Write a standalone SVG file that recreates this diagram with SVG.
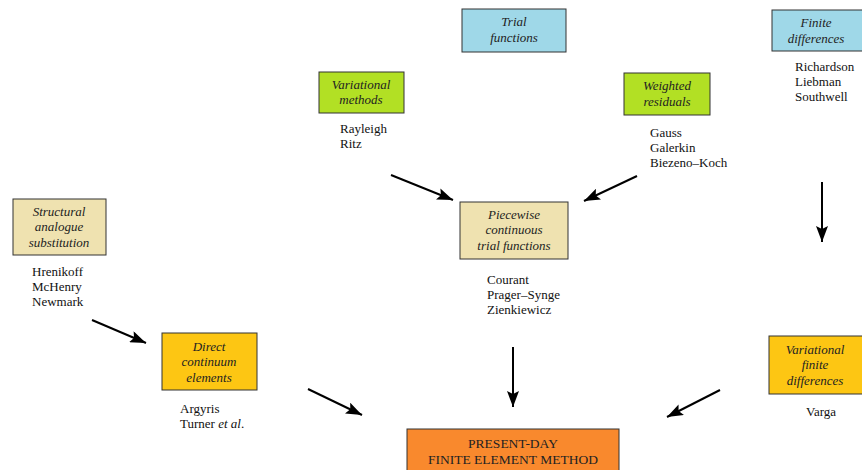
<svg xmlns="http://www.w3.org/2000/svg" width="862" height="470" viewBox="0 0 862 470">
<style>
.box{stroke:#333;stroke-width:1}
.blue{fill:#9fd8e8}
.green{fill:#b2e024}
.tan{fill:#efe2b0}
.gold{fill:#fdc613}
.orange{fill:#f9892d}
.lbl{font-family:"Liberation Serif",serif;font-style:italic;font-size:13px;fill:#222;text-anchor:middle}
.nm{font-family:"Liberation Serif",serif;font-size:13px;fill:#111}
.cap{font-family:"Liberation Serif",serif;font-size:13.5px;fill:#222;text-anchor:middle}
.arr{stroke:#000;stroke-width:2;fill:none;marker-end:url(#ah)}
</style>
<defs>
<marker id="ah" markerUnits="userSpaceOnUse" markerWidth="18" markerHeight="12" refX="16" refY="6" orient="auto">
<path d="M0,0 L16,6 L0,12 L3,6 Z" fill="#000"/>
</marker>
</defs>
<rect width="862" height="470" fill="#fff"/>
<g id="trial">
<rect class="box blue" x="462" y="9" width="104" height="43"/>
<text class="lbl" x="514" y="26">Trial</text>
<text class="lbl" x="514" y="42">functions</text>
</g>
<g id="finitediff">
<rect class="box blue" x="772" y="10" width="92" height="41"/>
<text class="lbl" x="816" y="27">Finite</text>
<text class="lbl" x="816" y="43">differences</text>
<text class="nm" x="795" y="71">Richardson</text>
<text class="nm" x="795" y="86">Liebman</text>
<text class="nm" x="795" y="101">Southwell</text>
</g>
<g id="variational">
<rect class="box green" x="319" y="72" width="85" height="41"/>
<text class="lbl" x="361" y="89">Variational</text>
<text class="lbl" x="361" y="104">methods</text>
<text class="nm" x="340" y="133">Rayleigh</text>
<text class="nm" x="340" y="148">Ritz</text>
</g>
<g id="weighted">
<rect class="box green" x="624" y="73" width="86" height="42"/>
<text class="lbl" x="667" y="90">Weighted</text>
<text class="lbl" x="667" y="106">residuals</text>
<text class="nm" x="650" y="137">Gauss</text>
<text class="nm" x="650" y="152">Galerkin</text>
<text class="nm" x="650" y="167">Biezeno–Koch</text>
</g>
<g id="structural">
<rect class="box tan" x="13" y="199" width="93" height="56"/>
<text class="lbl" x="59" y="216">Structural</text>
<text class="lbl" x="59" y="231">analogue</text>
<text class="lbl" x="59" y="247">substitution</text>
<text class="nm" x="32" y="276">Hrenikoff</text>
<text class="nm" x="32" y="291">McHenry</text>
<text class="nm" x="32" y="306">Newmark</text>
</g>
<g id="piecewise">
<rect class="box tan" x="460" y="202" width="108" height="57"/>
<text class="lbl" x="514" y="219">Piecewise</text>
<text class="lbl" x="514" y="234">continuous</text>
<text class="lbl" x="514" y="250">trial functions</text>
<text class="nm" x="487" y="284">Courant</text>
<text class="nm" x="487" y="299">Prager–Synge</text>
<text class="nm" x="487" y="314">Zienkiewicz</text>
</g>
<g id="direct">
<rect class="box gold" x="162" y="333" width="95" height="57"/>
<text class="lbl" x="209" y="351">Direct</text>
<text class="lbl" x="209" y="366">continuum</text>
<text class="lbl" x="209" y="382">elements</text>
<text class="nm" x="180" y="413">Argyris</text>
<text class="nm" x="180" y="428">Turner <tspan font-style="italic">et al</tspan>.</text>
</g>
<g id="varfinite">
<rect class="box gold" x="769" y="336" width="95" height="58"/>
<text class="lbl" x="815" y="354">Variational</text>
<text class="lbl" x="815" y="369">finite</text>
<text class="lbl" x="815" y="385">differences</text>
<text class="nm" x="806" y="416">Varga</text>
</g>
<g id="present">
<rect class="box orange" x="407" y="429" width="212" height="45"/>
<text class="cap" x="513" y="448">PRESENT-DAY</text>
<text class="cap" x="513" y="464">FINITE ELEMENT METHOD</text>
</g>
<g id="connectors">
<line class="arr" x1="391" y1="175" x2="453" y2="200"/>
<line class="arr" x1="637" y1="176" x2="584" y2="201"/>
<line class="arr" x1="822" y1="182" x2="822" y2="242"/>
<line class="arr" x1="92" y1="320" x2="146" y2="343"/>
<line class="arr" x1="308" y1="389" x2="362" y2="415"/>
<line class="arr" x1="513" y1="347" x2="513" y2="407"/>
<line class="arr" x1="720" y1="390" x2="667" y2="417"/>
</g>
</svg>
